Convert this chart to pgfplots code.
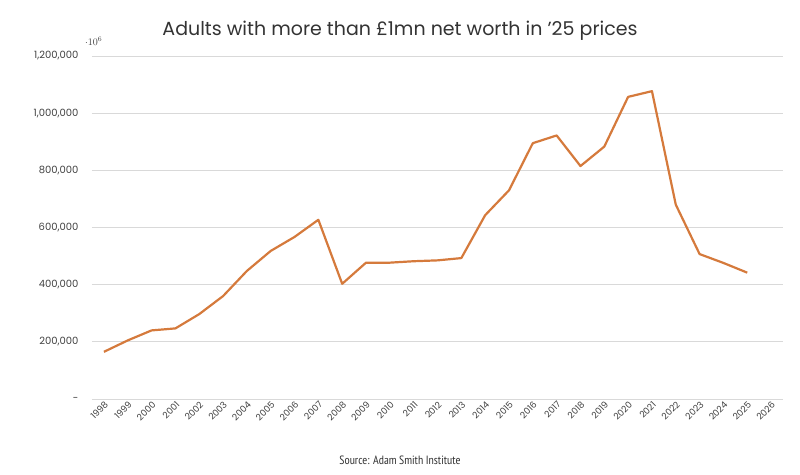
\documentclass[border=0pt]{standalone}
\usepackage{pgfplots}
\pgfplotsset{compat=1.18}
\usepackage{fontspec}
\setmainfont{Poppins}
\newfontfamily\srcfont{PT Sans Narrow}
\definecolor{line}{HTML}{D57A3C}
\begin{document}
\begin{tikzpicture}
\useasboundingbox (-92pt,-75pt) rectangle (708pt,399pt);
\begin{axis}[anchor=south west,scale only axis,width=691pt,height=343pt,
 xmin=-0.5,xmax=28.5,ymin=0,ymax=1200000,
 axis line style={draw=none},tick style={draw=none},
 ymajorgrids,grid style={gray!30,line width=0.8pt},
 ytick={0,200000,400000,600000,800000,1000000,1200000},
 yticklabels={-,{200,000},{400,000},{600,000},{800,000},{1,000,000},{1,200,000}},
 xtick={0,...,28},
 xticklabels={1998,1999,2000,2001,2002,2003,2004,2005,2006,2007,2008,2009,2010,2011,2012,2013,2014,2015,2016,2017,2018,2019,2020,2021,2022,2023,2024,2025,2026},
 x tick label style={rotate=45,anchor=north east,font=\fontsize{9}{10}\selectfont,text=black!75,inner sep=1pt},
 y tick label style={font=\fontsize{10}{12}\selectfont,text=black!75},
 yticklabel style={xshift=-10pt},
 ]
\addplot[line,line width=2.2pt,line join=round] coordinates {
(0,165000)(1,205000)(2,240000)(3,247000)(4,297000)(5,360000)(6,448000)(7,518000)(8,567000)(9,627000)(10,403000)(11,477000)(12,477000)(13,482000)(14,485000)(15,493000)(16,643000)(17,730000)(18,895000)(19,922000)(20,815000)(21,883000)(22,1057000)(23,1077000)(24,680000)(25,507000)(26,476000)(27,442000)};
\end{axis}
\node[font=\fontsize{19}{22}\selectfont,text=black!80] at (308pt,368pt) {Adults with more than £1mn net worth in '25 prices};
\node[font=\srcfont\fontsize{12}{14}\selectfont,text=black!80] at (308pt,-61pt) {Source: Adam Smith Institute};
\end{tikzpicture}
\end{document}
